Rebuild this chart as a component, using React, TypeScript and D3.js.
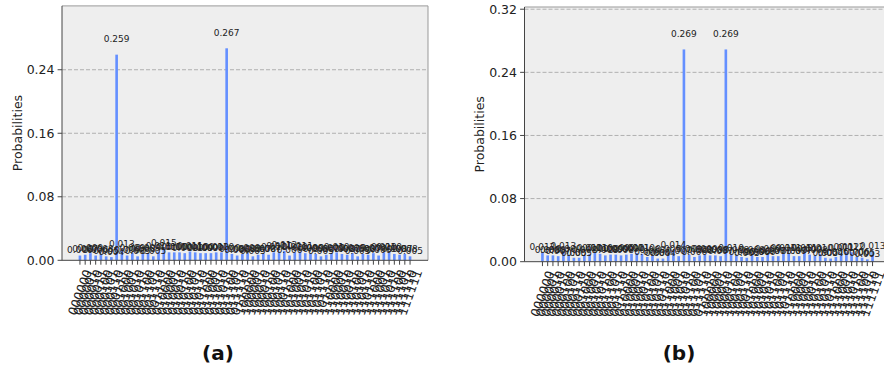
import { useEffect, useRef } from 'react';
import * as d3 from 'd3';

// 6-qubit basis states, 000000 .. 111111
const states = d3.range(64).map((i) => i.toString(2).padStart(6, '0'));

const probsA = [
  0.006, 0.007, 0.009, 0.006, 0.008, 0.005, 0.004, 0.259, 0.013, 0.006, 0.009, 0.005, 0.008, 0.009, 0.005, 0.011,
  0.015, 0.01, 0.01, 0.01, 0.009, 0.011, 0.01, 0.009, 0.009, 0.009, 0.01, 0.01, 0.267, 0.008, 0.006, 0.008,
  0.009, 0.005, 0.007, 0.008, 0.007, 0.01, 0.011, 0.012, 0.006, 0.01, 0.011, 0.009, 0.009, 0.008, 0.005, 0.007,
  0.009, 0.01, 0.008, 0.007, 0.009, 0.005, 0.008, 0.007, 0.009, 0.006, 0.01, 0.01, 0.008, 0.007, 0.008, 0.005,
];

const probsB = [
  0.012, 0.008, 0.008, 0.007, 0.013, 0.009, 0.005, 0.005, 0.008, 0.01, 0.011, 0.01, 0.008, 0.009, 0.009, 0.008,
  0.009, 0.01, 0.011, 0.01, 0.006, 0.008, 0.004, 0.004, 0.009, 0.014, 0.007, 0.269, 0.009, 0.006, 0.008, 0.009,
  0.008, 0.008, 0.007, 0.269, 0.01, 0.008, 0.006, 0.005, 0.008, 0.006, 0.006, 0.009, 0.007, 0.007, 0.01, 0.011,
  0.007, 0.007, 0.011, 0.009, 0.008, 0.01, 0.005, 0.004, 0.006, 0.011, 0.012, 0.012, 0.006, 0.005, 0.003, 0.013,
];

const yTicksA = [0, 0.08, 0.16, 0.24];
const yTicksB = [0, 0.08, 0.16, 0.24, 0.32];

const BAR = '#648fff';
const FONT = 'DejaVu Sans, sans-serif';

interface PanelSpec {
  values: number[];
  yTicks: number[];
  yMax: number;
  left: number;
  right: number;
  top: number;
  bottom: number;
  title: string;
  titleX: number;
}

const panels: PanelSpec[] = [
  { values: probsA, yTicks: yTicksA, yMax: 0.3204, left: 62, right: 428, top: 5.9, bottom: 260.3, title: '(a)', titleX: 218 },
  { values: probsB, yTicks: yTicksB, yMax: 0.3228, left: 524.5, right: 890.5, top: 7, bottom: 261.7, title: '(b)', titleX: 679 },
];

function drawPanel(root: d3.Selection<SVGGElement, unknown, null, undefined>, p: PanelSpec) {
  const g = root.append('g');
  const n = p.values.length;
  // matplotlib-style 5% margins around bars of width 0.5
  const span = n - 1 + 0.5;
  const x = d3
    .scaleLinear()
    .domain([-0.25 - span * 0.05, n - 1 + 0.25 + span * 0.05])
    .range([p.left, p.right]);
  const y = d3.scaleLinear().domain([0, p.yMax]).range([p.bottom, p.top]);

  g.append('rect')
    .attr('x', p.left)
    .attr('y', p.top)
    .attr('width', p.right - p.left)
    .attr('height', p.bottom - p.top)
    .attr('fill', '#eeeeee');

  // dashed y grid
  g.append('g')
    .selectAll('line')
    .data(p.yTicks.filter((t) => t > 0))
    .join('line')
    .attr('x1', p.left)
    .attr('x2', p.right)
    .attr('y1', (t) => y(t))
    .attr('y2', (t) => y(t))
    .attr('stroke', '#b0b0b0')
    .attr('stroke-width', 1)
    .attr('stroke-dasharray', '4,2');

  const bw = x(0.25) - x(-0.25);
  g.append('g')
    .selectAll('rect')
    .data(p.values)
    .join('rect')
    .attr('x', (_d, i) => x(i) - bw / 2)
    .attr('y', (d) => y(d))
    .attr('width', bw)
    .attr('height', (d) => p.bottom - y(d))
    .attr('fill', BAR);

  // value labels, matplotlib va=bottom at 1.05*height
  g.append('g')
    .selectAll('text')
    .data(p.values)
    .join('text')
    .attr('x', (_d, i) => x(i))
    .attr('y', (d) => y(d * 1.05) - 2)
    .attr('text-anchor', 'middle')
    .attr('font-family', FONT)
    .attr('font-size', 9)
    .attr('fill', '#222')
    .text((d) => d.toFixed(3));

  // spines
  g.append('line').attr('x1', p.left).attr('x2', p.right).attr('y1', p.top).attr('y2', p.top).attr('stroke', '#999');
  g.append('line').attr('x1', p.right).attr('x2', p.right).attr('y1', p.top).attr('y2', p.bottom).attr('stroke', '#999');
  g.append('line').attr('x1', p.left).attr('x2', p.left).attr('y1', p.top).attr('y2', p.bottom).attr('stroke', '#444');
  g.append('line').attr('x1', p.left).attr('x2', p.right).attr('y1', p.bottom).attr('y2', p.bottom).attr('stroke', '#444');

  // y ticks
  const yt = g.append('g').selectAll('g').data(p.yTicks).join('g');
  yt.append('line')
    .attr('x1', p.left - 4.4)
    .attr('x2', p.left)
    .attr('y1', (t) => y(t))
    .attr('y2', (t) => y(t))
    .attr('stroke', '#444');
  yt.append('text')
    .attr('x', p.left - 7.5)
    .attr('y', (t) => y(t))
    .attr('dy', '0.36em')
    .attr('text-anchor', 'end')
    .attr('font-family', FONT)
    .attr('font-size', 12.5)
    .attr('fill', '#222')
    .text((t) => d3.format('.2f')(t));

  g.append('text')
    .attr('transform', `translate(${p.left - 45},${(p.top + p.bottom) / 2}) rotate(-90)`)
    .attr('text-anchor', 'middle')
    .attr('dy', '0.36em')
    .attr('font-family', FONT)
    .attr('font-size', 12.5)
    .attr('fill', '#222')
    .text('Probabilities');

  // x ticks + rotated state labels
  const xt = g.append('g').selectAll('g').data(states).join('g');
  xt.append('line')
    .attr('x1', (_d, i) => x(i))
    .attr('x2', (_d, i) => x(i))
    .attr('y1', p.bottom)
    .attr('y2', p.bottom + 4.4)
    .attr('stroke', '#444');
  xt.append('text')
    .attr('transform', (_d, i) => `translate(${x(i)},${p.bottom + 32}) rotate(-70)`)
    .attr('text-anchor', 'middle')
    .attr('dy', '0.36em')
    .attr('font-family', FONT)
    .attr('font-size', 12.5)
    .attr('fill', '#222')
    .text((d) => d);

  root
    .append('text')
    .attr('x', p.titleX)
    .attr('y', 360)
    .attr('text-anchor', 'middle')
    .attr('font-family', FONT)
    .attr('font-weight', 'bold')
    .attr('font-size', 20)
    .attr('fill', '#111')
    .text(p.title);
}

export default function App() {
  const ref = useRef<SVGSVGElement>(null);

  useEffect(() => {
    if (!ref.current) return;
    const svg = d3.select(ref.current);
    svg.selectAll('*').remove();
    const root = svg.append('g');
    panels.forEach((p) => drawPanel(root, p));
  }, []);

  return (
    <svg
      ref={ref}
      width={884}
      height={371}
      style={{ position: 'absolute', left: 0, top: 0, background: '#fff' }}
    />
  );
}
